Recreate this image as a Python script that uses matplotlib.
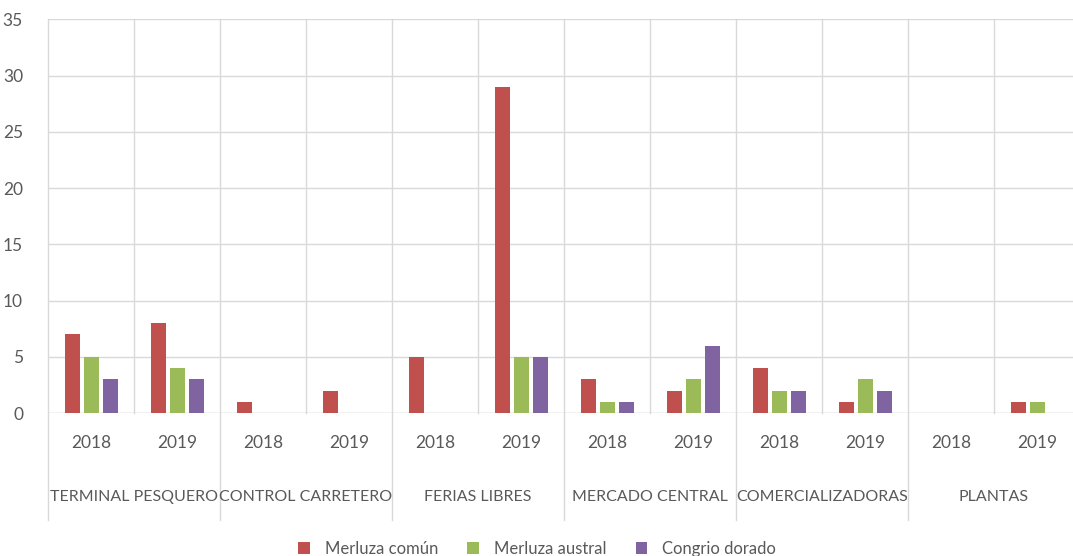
import matplotlib
matplotlib.use("Agg")
import matplotlib.pyplot as plt
import matplotlib.transforms as mtransforms
from matplotlib.patches import Patch
import numpy as np

plt.rcParams['font.family'] = ['Lato', 'DejaVu Sans']

groups = ["TERMINAL PESQUERO", "CONTROL CARRETERO", "FERIAS LIBRES",
          "MERCADO CENTRAL", "COMERCIALIZADORAS", "PLANTAS"]
years = ["2018", "2019"]
series_names = ["Merluza común", "Merluza austral", "Congrio dorado"]
merluza_comun =   [7, 8, 1, 2, 5, 29, 3, 2, 4, 1, 0, 1]
merluza_austral = [5, 4, 0, 0, 0, 5, 1, 3, 2, 3, 0, 1]
congrio_dorado =  [3, 3, 0, 0, 0, 5, 1, 6, 2, 2, 0, 0]
colors = ["#C0504D", "#9BBB59", "#8064A2"]
yticks = [0, 5, 10, 15, 20, 25, 30, 35]

W, H = 1073, 556
fig = plt.figure(figsize=(W / 100, H / 100), dpi=100)
left, right, top, bottom = 48, 1080, 19.5, 413
ax = fig.add_axes([left / W, (H - bottom) / H, (right - left) / W, (bottom - top) / H])

n = len(merluza_comun)
x = np.arange(n) + 0.5
bw = 15 / 86
step = 19 / 86
grid_c = "#D9D9D9"
text_c = "#595959"

for i, (vals, c, name) in enumerate(zip([merluza_comun, merluza_austral, congrio_dorado], colors, series_names)):
    ax.bar(x + (i - 1) * step, vals, width=bw, color=c, label=name, zorder=3)

ax.set_xlim(0, n)
ax.set_ylim(0, 35)
ax.set_yticks(yticks)
ax.set_yticklabels([str(v) for v in yticks])
ax.tick_params(axis='y', length=0, pad=18, labelsize=12.5, labelcolor=text_c)
ax.set_xticks([])
for s in ax.spines.values():
    s.set_visible(False)
ax.yaxis.grid(True, color=grid_c, linewidth=1, zorder=0)
ax.axhline(0, color=grid_c, linewidth=1, zorder=2)

ah = bottom - top
trans = mtransforms.blended_transform_factory(ax.transData, ax.transAxes)
for k in range(n + 1):
    if k % 2 == 0:
        ax.plot([k, k], [-(520 - bottom) / ah, 1], color=grid_c, linewidth=1, transform=trans,
                clip_on=False, zorder=1)
    else:
        ax.plot([k, k], [0, 1], color=grid_c, linewidth=1, transform=trans, clip_on=False, zorder=1)

for k in range(n):
    ax.text(k + 0.5, -(443 - bottom) / ah, years[k % 2], transform=trans, ha='center', va='center',
            fontsize=12.5, color=text_c)
for g, name in enumerate(groups):
    ax.text(2 * g + 1, -(497 - bottom) / ah, name, transform=trans, ha='center', va='center',
            fontsize=11.5, color=text_c)

handles = [Patch(facecolor=c, edgecolor='none') for c in colors]
fig.legend(handles, series_names, loc='center', bbox_to_anchor=(537 / W, (H - 549) / H),
           ncol=3, frameon=False, fontsize=12, labelcolor=text_c, handlelength=0.7,
           handleheight=0.7, handletextpad=0.9, columnspacing=1.75)

fig.savefig("out.png", dpi=100, facecolor="white")
